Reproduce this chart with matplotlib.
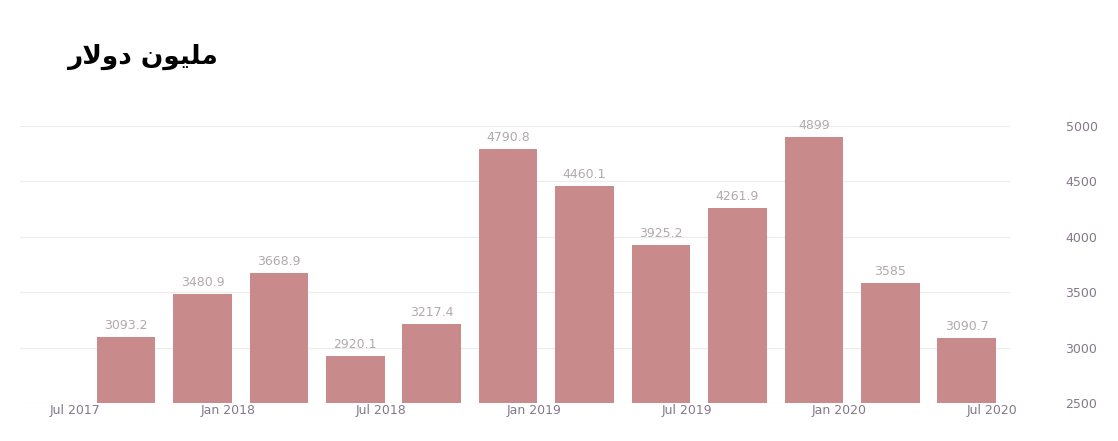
import matplotlib
matplotlib.use("Agg")
import matplotlib.pyplot as plt

# quarterly values (million USD), bars placed at quarter-end months
quarters = ["Sep 2017", "Dec 2017", "Mar 2018", "Jun 2018", "Sep 2018", "Dec 2018",
            "Mar 2019", "Jun 2019", "Sep 2019", "Dec 2019", "Mar 2020", "Jun 2020"]
values = [3093.2, 3480.9, 3668.9, 2920.1, 3217.4, 4790.8,
          4460.1, 3925.2, 4261.9, 4899, 3585, 3090.7]
value_labels = ["3093.2", "3480.9", "3668.9", "2920.1", "3217.4", "4790.8",
                "4460.1", "3925.2", "4261.9", "4899", "3585", "3090.7"]
tick_labels = ["Jul 2017", "Jan 2018", "Jul 2018", "Jan 2019", "Jul 2019", "Jan 2020", "Jul 2020"]
y_ticks = [2500, 3000, 3500, 4000, 4500, 5000]

# months counted from Jul 2017
bar_x = [2 + 3 * i for i in range(len(values))]
tick_x = [6 * i for i in range(len(tick_labels))]

# "مليون دولار" written with presentation forms in visual order
title = "\uFEAD\uFEFB\uFEED\uFEA9 \uFEE5\uFEEE\uFEF4\uFEE0\uFEE3"

bar_color = "#c98a8c"
tick_color = "#85788a"
label_color = "#b3a9aa"

fig = plt.figure(figsize=(11.18, 4.41), dpi=100)
ax = fig.add_axes([20 / 1118, 38 / 441, 990 / 1118, 277 / 441])

ax.bar(bar_x, values, width=2.3, bottom=0, color=bar_color, zorder=2)
for x, v, t in zip(bar_x, values, value_labels):
    ax.text(x, v + 45, t, ha="center", va="bottom", fontsize=9,
            color=label_color, clip_on=False, zorder=3)

ax.set_xlim(-2.16, 36.7)
ax.set_ylim(2500, 5000)
ax.set_xticks(tick_x)
ax.set_xticklabels(tick_labels, fontsize=9, color=tick_color)
ax.set_yticks(y_ticks)
ax.set_yticklabels([str(t) for t in y_ticks], fontsize=9, color=tick_color)
ax.yaxis.tick_right()
ax.tick_params(axis="y", length=0, pad=40)
ax.tick_params(axis="x", length=0, pad=1)
ax.grid(axis="y", color="#ececec", linewidth=0.8, zorder=0)
for s in ax.spines.values():
    s.set_visible(False)

fig.text(142 / 1118, 1 - 57 / 441, title, ha="center", va="center",
         fontsize=19, fontweight="bold", color="black", family=["DejaVu Sans"])

fig.savefig("out.png", dpi=100, facecolor="white")
